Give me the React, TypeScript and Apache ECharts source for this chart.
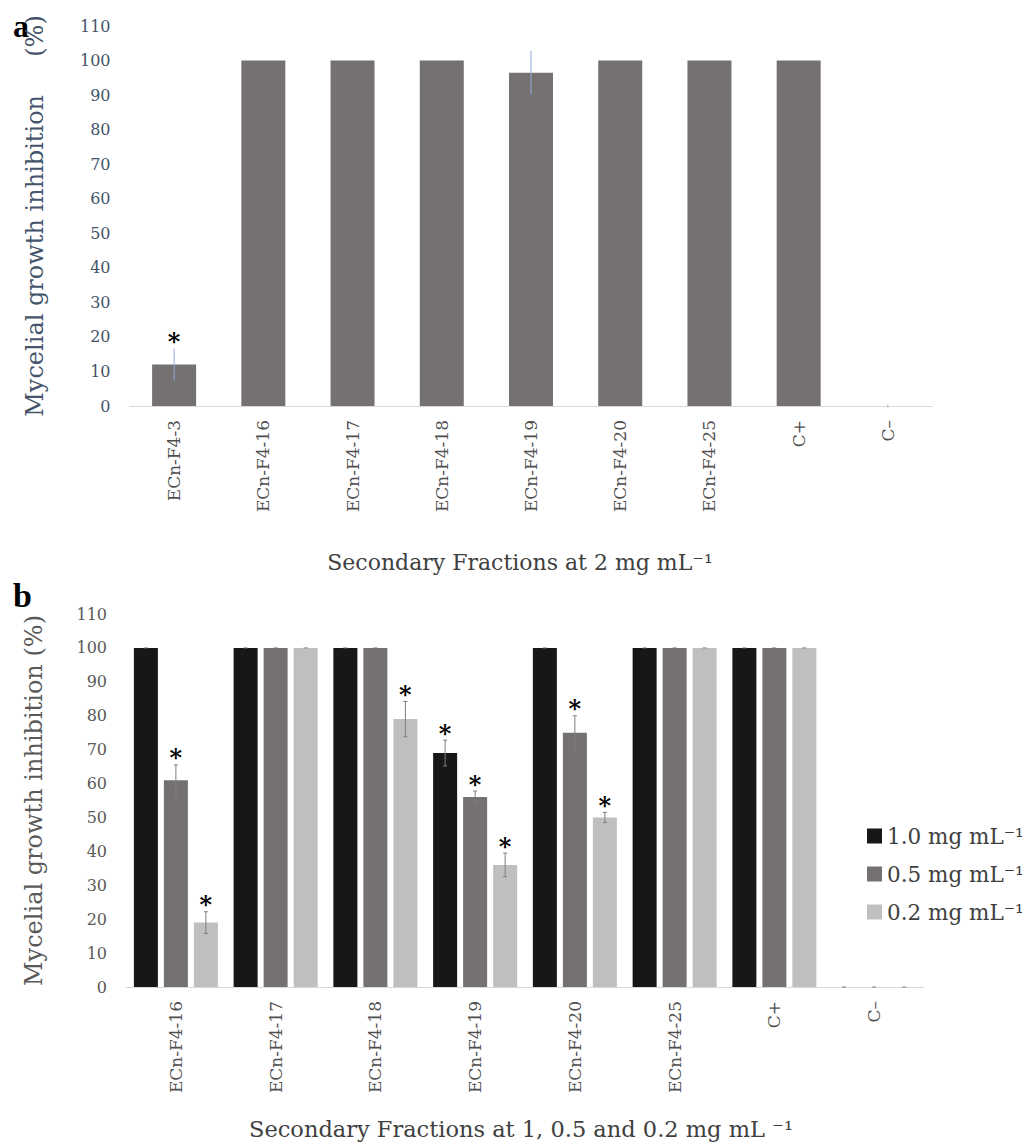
import React, { useEffect, useRef } from 'react';
import * as echarts from 'echarts';

// ---------- Panel a ----------
const catsA = ['ECn-F4-3', 'ECn-F4-16', 'ECn-F4-17', 'ECn-F4-18', 'ECn-F4-19', 'ECn-F4-20', 'ECn-F4-25', 'C+', 'C–'];
const valsA = [12, 100, 100, 100, 96.5, 100, 100, 100, 0];
const errA = [4.6, 0, 0, 0, 6.3, 0, 0, 0, 0.4];
const starA = [1, 0, 0, 0, 0, 0, 0, 0, 0];

// ---------- Panel b ----------
const catsB = ['ECn-F4-16', 'ECn-F4-17', 'ECn-F4-18', 'ECn-F4-19', 'ECn-F4-20', 'ECn-F4-25', 'C+', 'C–'];
const namesB = ['1.0 mg mL⁻¹', '0.5 mg mL⁻¹', '0.2 mg mL⁻¹'];
const valsB1 = [100, 100, 100, 69, 100, 100, 100, 0];
const valsB2 = [61, 100, 100, 56, 75, 100, 100, 0];
const valsB3 = [19, 100, 79, 36, 50, 100, 100, 0];
const errB1 = [0, 0, 0, 3.8, 0, 0, 0, 0];
const errB2 = [4.5, 0, 0, 1.8, 5, 0, 0, 0];
const errB3 = [3.2, 0, 5.2, 3.5, 1.5, 0, 0, 0];
const starB1 = [0, 0, 0, 1, 0, 0, 0, 0];
const starB2 = [1, 0, 0, 1, 1, 0, 0, 0];
const starB3 = [1, 0, 1, 1, 1, 0, 0, 0];

const yMin = 0;
const yMax = 110;
const yStep = 10;

const FONT = 'DejaVu Serif';

function errSeries(
  vals: number[], errs: number[], stars: number[], offset: number, color: string,
  axisIdx: number, capW: number, showZeroCap: boolean
) {
  return {
    type: 'custom',
    xAxisIndex: axisIdx,
    yAxisIndex: axisIdx,
    silent: true,
    z: 5,
    data: vals.map((v, i) => [i, v, errs[i], stars[i]]),
    encode: { x: 0, y: 1 },
    renderItem: (params: any, api: any) => {
      const i = api.value(0);
      const v = api.value(1);
      const e = api.value(2);
      const s = api.value(3);
      const top = api.coord([i, v + e]);
      const bot = api.coord([i, v - e]);
      const x = top[0] + offset;
      const children: any[] = [];
      if (e > 0) {
        children.push({ type: 'line', shape: { x1: x, y1: top[1], x2: x, y2: bot[1] }, style: { stroke: color, lineWidth: 1 } });
      }
      if (capW > 0 && (e > 0 || showZeroCap)) {
        children.push({ type: 'line', shape: { x1: x - capW / 2, y1: top[1], x2: x + capW / 2, y2: top[1] }, style: { stroke: color, lineWidth: 1 } });
        if (e > 0) {
          children.push({ type: 'line', shape: { x1: x - capW / 2, y1: bot[1], x2: x + capW / 2, y2: bot[1] }, style: { stroke: color, lineWidth: 1 } });
        }
      }
      if (s) {
        children.push({
          type: 'text',
          style: { text: '*', x, y: top[1] - 7, align: 'center', verticalAlign: 'middle', font: `bold 24px "${FONT}"`, fill: '#000' },
        });
      }
      return { type: 'group', children };
    },
  };
}

export default function App() {
  const ref = useRef<HTMLDivElement>(null);

  useEffect(() => {
    document.body.style.margin = '0';
    if (!ref.current) return;
    const chart = echarts.init(ref.current, null, { renderer: 'svg' });

    const xLabel = (color: string) => ({
      rotate: 90, interval: 0, margin: 14, fontSize: 17, color, fontFamily: FONT,
    });

    const option: any = {
      animation: false,
      backgroundColor: '#ffffff',
      textStyle: { fontFamily: FONT },
      grid: [
        { left: 129.5, top: 26, width: 803, height: 380, containLabel: false, outerBoundsMode: 'none' },
        { left: 126, top: 614, width: 798, height: 373, containLabel: false, outerBoundsMode: 'none' },
      ],
      xAxis: [
        {
          type: 'category', gridIndex: 0, data: catsA,
          axisLine: { lineStyle: { color: '#D9D9D9', width: 1 } },
          axisTick: { show: false },
          axisLabel: xLabel('#4F4F4F'),
        },
        {
          type: 'category', gridIndex: 1, data: catsB,
          axisLine: { lineStyle: { color: '#D9D9D9', width: 1 } },
          axisTick: { show: false },
          axisLabel: xLabel('#4F4F4F'),
        },
      ],
      yAxis: [
        {
          type: 'value', gridIndex: 0, min: yMin, max: yMax, interval: yStep,
          axisLine: { show: false }, axisTick: { show: false }, splitLine: { show: false },
          axisLabel: { fontSize: 16, color: '#44546A', margin: 19, fontFamily: FONT },
          name: 'Mycelial growth inhibition\u00A0\u00A0\u00A0\u00A0\u00A0(%)',
          nameLocation: 'middle', nameGap: 83,
          nameTextStyle: { fontSize: 24, color: '#44546A', fontFamily: FONT },
        },
        {
          type: 'value', gridIndex: 1, min: yMin, max: yMax, interval: yStep,
          axisLine: { show: false }, axisTick: { show: false }, splitLine: { show: false },
          axisLabel: { fontSize: 16, color: '#595959', margin: 19, fontFamily: FONT },
          name: 'Mycelial growth inhibition (%)',
          nameLocation: 'middle', nameGap: 80,
          nameTextStyle: { fontSize: 24, color: '#595959', fontFamily: FONT },
        },
      ],
      legend: {
        data: namesB,
        orient: 'vertical',
        left: 862, top: 820,
        itemWidth: 15, itemHeight: 15, itemGap: 16,
        icon: 'rect',
        textStyle: { fontSize: 21.5, color: '#404040', fontFamily: FONT },
      },
      graphic: [
        { type: 'text', left: 13, top: 10, style: { text: 'a', font: `bold 32px "Liberation Serif"`, fill: '#000' } },
        { type: 'text', left: 13, top: 578, style: { text: 'b', font: `bold 34px "Liberation Serif"`, fill: '#000' } },
        {
          type: 'text', x: 520, y: 562,
          style: { text: 'Secondary Fractions at 2 mg mL⁻¹', align: 'center', verticalAlign: 'middle', font: `22px "${FONT}"`, fill: '#404040' },
        },
        {
          type: 'text', x: 521, y: 1129,
          style: { text: 'Secondary Fractions at 1, 0.5 and 0.2 mg mL ⁻¹', align: 'center', verticalAlign: 'middle', font: `22.5px "${FONT}"`, fill: '#404040' },
        },
      ],
      series: [
        {
          type: 'bar', xAxisIndex: 0, yAxisIndex: 0, data: valsA, barWidth: 44,
          itemStyle: { color: '#767171' },
        },
        errSeries(valsA, errA, starA, 0, '#8FAADC', 0, 0, false),
        {
          name: namesB[0], type: 'bar', xAxisIndex: 1, yAxisIndex: 1, data: valsB1,
          barWidth: 24, barGap: '25%', itemStyle: { color: '#171717' },
        },
        {
          name: namesB[1], type: 'bar', xAxisIndex: 1, yAxisIndex: 1, data: valsB2,
          barWidth: 24, barGap: '25%', itemStyle: { color: '#767171' },
        },
        {
          name: namesB[2], type: 'bar', xAxisIndex: 1, yAxisIndex: 1, data: valsB3,
          barWidth: 24, barGap: '25%', itemStyle: { color: '#BFBFBF' },
        },
        errSeries(valsB1, errB1, starB1, -30, '#7F7F7F', 1, 4, true),
        errSeries(valsB2, errB2, starB2, 0, '#7F7F7F', 1, 4, true),
        errSeries(valsB3, errB3, starB3, 30, '#7F7F7F', 1, 4, true),
      ],
    };

    chart.setOption(option);
    return () => chart.dispose();
  }, []);

  return <div ref={ref} style={{ width: 1027, height: 1144 }} />;
}
